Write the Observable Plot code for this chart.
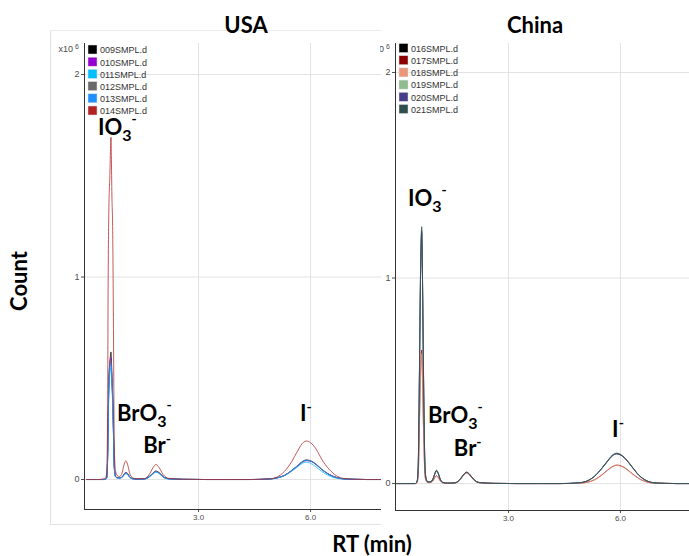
<!DOCTYPE html>
<html>
<head>
<meta charset="utf-8">
<script src="https://cdn.jsdelivr.net/npm/d3@7"></script>
<script src="https://cdn.jsdelivr.net/npm/@observablehq/plot@0.6"></script>
<style>
  body { margin: 0; background: #fff; }
  #fig { position: relative; width: 689px; height: 556px; overflow: hidden; background: #fff; }
  #fig svg { position: absolute; top: 0; }
</style>
</head>
<body>
<div id="fig"></div>
<script>
// ---------------- data ----------------
const panelTitles = ["USA", "China"];
const xTicks = [3, 6];
const xTickLabels = ["3.0", "6.0"];
const yTicks = [0, 1, 2];
const yUnitLabel = "x10";
const yUnitExp = "6";

// retention times (min) for the USA traces
const rtUSA = [0, 0.3, 0.5, 0.54, 0.565, 0.58, 0.60, 0.625, 0.645, 0.655, 0.665, 0.68, 0.70, 0.72, 0.735, 0.75, 0.78, 0.82, 0.88, 0.95, 1.0, 1.05, 1.1, 1.15, 1.22, 1.35, 1.55, 1.68, 1.78, 1.86, 1.94, 2.05, 2.2, 2.6, 3.2, 3.8, 4.4, 4.9, 5.1, 5.3, 5.5, 5.65, 5.78, 5.88, 6.0, 6.15, 6.3, 6.5, 6.7, 6.9, 7.2, 7.5, 7.9];
const usaSamples = ["009SMPL.d", "010SMPL.d", "011SMPL.d", "012SMPL.d", "013SMPL.d", "014SMPL.d"];
const usaColors = ["#000000", "#9400D3", "#00BFFF", "#696969", "#1E90FF", "#B22222"];
// counts (x10^6)
const usa009 = [0,0,0,0.01,0.12,0.3,0.5,0.58,0.62,0.63,0.6,0.52,0.42,0.26,0.12,0.05,0.015,0.01,0.008,0.012,0.025,0.035,0.03,0.015,0.005,0.002,0.003,0.015,0.032,0.042,0.035,0.015,0.004,0.001,0,0,0,0.003,0.008,0.02,0.045,0.068,0.088,0.096,0.092,0.075,0.05,0.025,0.01,0.003,0.001,0,0];
const usa010 = [0,0,0,0.008,0.1,0.28,0.48,0.56,0.6,0.6,0.57,0.5,0.4,0.25,0.11,0.045,0.014,0.009,0.008,0.011,0.023,0.033,0.028,0.014,0.005,0.002,0.003,0.014,0.03,0.04,0.033,0.014,0.004,0.001,0,0,0,0.003,0.008,0.02,0.044,0.066,0.085,0.093,0.09,0.073,0.049,0.024,0.009,0.003,0.001,0,0];
const usa011 = [0,0,0,0.006,0.09,0.25,0.44,0.52,0.55,0.55,0.53,0.46,0.37,0.23,0.1,0.04,0.012,0.008,0.007,0.01,0.02,0.028,0.024,0.012,0.004,0.001,0.002,0.012,0.027,0.036,0.03,0.012,0.003,0.001,0,0,0,0.002,0.007,0.019,0.042,0.062,0.08,0.086,0.08,0.062,0.04,0.018,0.006,0.002,0.001,0,0];
const usa012 = [0,0,0,0.009,0.11,0.29,0.49,0.57,0.59,0.59,0.56,0.49,0.4,0.25,0.11,0.046,0.014,0.009,0.008,0.011,0.024,0.034,0.029,0.014,0.005,0.002,0.003,0.015,0.031,0.041,0.034,0.014,0.004,0.001,0,0,0,0.003,0.009,0.021,0.046,0.069,0.089,0.097,0.093,0.076,0.051,0.025,0.01,0.003,0.001,0,0];
const usa013 = [0,0,0,0.007,0.1,0.27,0.46,0.54,0.57,0.57,0.55,0.48,0.39,0.24,0.1,0.042,0.013,0.008,0.007,0.011,0.022,0.031,0.027,0.013,0.004,0.001,0.003,0.013,0.029,0.038,0.032,0.013,0.003,0.001,0,0,0,0.003,0.008,0.02,0.045,0.067,0.087,0.094,0.091,0.074,0.05,0.024,0.009,0.003,0.001,0,0];
const usa014 = [0,0,0.005,0.03,0.35,1.0,1.35,1.5,1.65,1.69,1.6,1.4,1.25,0.8,0.35,0.12,0.04,0.02,0.015,0.03,0.07,0.092,0.075,0.035,0.01,0.003,0.005,0.025,0.058,0.074,0.06,0.025,0.006,0.001,0,0,0,0.003,0.012,0.04,0.09,0.14,0.178,0.19,0.182,0.15,0.1,0.05,0.018,0.005,0.001,0,0];

// retention times (min) for the China traces
const rtChina = [0, 0.3, 0.5, 0.55, 0.58, 0.60, 0.62, 0.645, 0.665, 0.675, 0.685, 0.70, 0.72, 0.74, 0.755, 0.77, 0.8, 0.84, 0.9, 0.97, 1.02, 1.07, 1.12, 1.17, 1.24, 1.37, 1.57, 1.70, 1.80, 1.88, 1.96, 2.07, 2.22, 2.6, 3.2, 3.8, 4.4, 4.9, 5.1, 5.3, 5.5, 5.65, 5.78, 5.9, 6.02, 6.17, 6.32, 6.5, 6.7, 6.9, 7.2, 7.5, 7.85];
const chinaSamples = ["016SMPL.d", "017SMPL.d", "018SMPL.d", "019SMPL.d", "020SMPL.d", "021SMPL.d"];
const chinaColors = ["#000000", "#8B0000", "#E9967A", "#8FBC8F", "#483D8B", "#2F4F4F"];
const china016 = [0,0,0,0.01,0.07,0.28,0.62,1.02,1.19,1.22,1.15,0.93,0.58,0.29,0.13,0.055,0.018,0.008,0.008,0.019,0.043,0.062,0.048,0.021,0.006,0.002,0.004,0.019,0.043,0.054,0.044,0.019,0.005,0.001,0,0,0,0.004,0.012,0.034,0.073,0.107,0.134,0.144,0.137,0.112,0.078,0.039,0.013,0.004,0.001,0,0];
const china017 = [0,0,0,0.005,0.04,0.15,0.35,0.55,0.64,0.65,0.6,0.48,0.3,0.15,0.07,0.03,0.012,0.005,0.005,0.012,0.028,0.038,0.03,0.014,0.004,0.001,0.003,0.018,0.042,0.052,0.042,0.018,0.004,0.001,0,0,0,0.002,0.006,0.018,0.042,0.065,0.082,0.09,0.086,0.07,0.048,0.024,0.008,0.002,0.001,0,0];
const china018 = [0,0,0,0.005,0.035,0.14,0.33,0.53,0.62,0.63,0.58,0.46,0.29,0.14,0.065,0.028,0.011,0.005,0.005,0.011,0.026,0.036,0.029,0.013,0.004,0.001,0.003,0.017,0.04,0.05,0.041,0.017,0.004,0.001,0,0,0,0.002,0.006,0.017,0.04,0.063,0.08,0.088,0.084,0.068,0.046,0.023,0.008,0.002,0.001,0,0];
const china019 = [0,0,0,0.01,0.08,0.29,0.64,1.04,1.21,1.24,1.17,0.94,0.59,0.3,0.14,0.06,0.02,0.008,0.008,0.02,0.044,0.064,0.049,0.022,0.006,0.002,0.004,0.02,0.044,0.055,0.045,0.02,0.005,0.001,0,0,0,0.004,0.012,0.035,0.074,0.109,0.137,0.147,0.139,0.114,0.079,0.04,0.014,0.004,0.001,0,0];
const china020 = [0,0,0,0.01,0.075,0.29,0.63,1.03,1.2,1.23,1.16,0.94,0.59,0.3,0.135,0.058,0.019,0.008,0.008,0.02,0.044,0.063,0.049,0.021,0.006,0.002,0.004,0.02,0.044,0.055,0.044,0.02,0.005,0.001,0,0,0,0.004,0.012,0.035,0.074,0.108,0.136,0.146,0.138,0.113,0.079,0.04,0.014,0.004,0.001,0,0];
const china021 = [0,0,0,0.01,0.08,0.3,0.65,1.05,1.22,1.25,1.18,0.95,0.6,0.3,0.14,0.06,0.02,0.008,0.008,0.02,0.045,0.065,0.05,0.022,0.006,0.002,0.004,0.02,0.045,0.056,0.045,0.02,0.005,0.001,0,0,0,0.004,0.012,0.035,0.075,0.11,0.138,0.148,0.14,0.115,0.08,0.04,0.014,0.004,0.001,0,0];

// peak annotations: anchor position in data units (RT min, count x10^6)
const usaPeakLabels = [
  {rt: 0.32, count: 1.70, base: "IO", sub: "3", sup: "-"},
  {rt: 0.83, count: 0.286, base: "BrO", sub: "3", sup: "-"},
  {rt: 1.53, count: 0.128, base: "Br", sub: "", sup: "-"},
  {rt: 5.73, count: 0.286, base: "I", sub: "", sup: "-"}
];
const chinaPeakLabels = [
  {rt: 0.32, count: 1.348, base: "IO", sub: "3", sup: "-"},
  {rt: 0.857, count: 0.292, base: "BrO", sub: "3", sup: "-"},
  {rt: 1.55, count: 0.131, base: "Br", sub: "", sup: "-"},
  {rt: 5.79, count: 0.224, base: "I", sub: "", sup: "-"}
];

const xAxisTitle = "RT (min)";
const yAxisTitle = "Count";

// ---------------- drawing ----------------
const fig = document.getElementById("fig");
const boldFont = "Lato, 'Open Sans', sans-serif";
const smallFont = "'Liberation Sans', Arial, sans-serif";

// faint frame of the left image
const bg = d3.select(fig).append("svg").attr("width", 689).attr("height", 556).style("left", "0px");
bg.append("line").attr("x1", 50.5).attr("x2", 50.5).attr("y1", 30).attr("y2", 525).attr("stroke", "#e2e2e2");
bg.append("line").attr("x1", 50).attr("x2", 381).attr("y1", 30.5).attr("y2", 30.5).attr("stroke", "#ececec");
bg.append("line").attr("x1", 50).attr("x2", 381).attr("y1", 524.5).attr("y2", 524.5).attr("stroke", "#e2e2e2");

function makePanel(cfg) {
  const data = [];
  cfg.samples.forEach((s, k) => {
    cfg.series[k].forEach((c, i) => data.push({sample: s, rt: cfg.rt[i], count: c}));
  });
  const plot = Plot.plot({
    width: cfg.width,
    height: 530,
    marginLeft: cfg.marginLeft,
    marginRight: 0,
    marginTop: 43,
    marginBottom: cfg.marginBottom,
    style: {background: "transparent", fontFamily: smallFont, fontSize: "9px", color: "#4d4d4d"},
    x: {domain: cfg.xDomain, ticks: xTicks, tickFormat: d => xTickLabels[xTicks.indexOf(d)], tickSize: 3, tickPadding: 2, label: null},
    y: {domain: cfg.yDomain, ticks: yTicks, tickFormat: d => String(d), tickSize: 3, tickPadding: 2, label: null},
    color: {domain: cfg.samples, range: cfg.colors},
    marks: [
      Plot.ruleX(xTicks, {stroke: "#e3e3e3"}),
      Plot.ruleY(yTicks, {stroke: "#e3e3e3"}),
      Plot.line(data, {x: "rt", y: "count", z: "sample", stroke: "sample", strokeWidth: 1, strokeOpacity: 0.75, curve: "monotone-x"}),
      Plot.ruleX([cfg.xDomain[0]], {stroke: "#333"}),
      Plot.ruleY([cfg.yDomain[0]], {stroke: "#333"})
    ]
  });
  plot.style.left = cfg.left + "px";
  plot.style.overflow = "hidden";
  fig.appendChild(plot);
  const svg = d3.select(plot);
  svg.selectAll('[aria-label^="x-axis"] text').attr("font-size", 8);

  const sxo = plot.scale("x"), syo = plot.scale("y");
  const sx = sxo.apply ? (v => sxo.apply(v)) : d3.scaleLinear(sxo.domain, sxo.range);
  const sy = syo.apply ? (v => syo.apply(v)) : d3.scaleLinear(syo.domain, syo.range);
  const axisX = cfg.marginLeft;

  const g = svg.append("g").attr("text-anchor", "start");

  // exponent label
  const ex = g.append("text").attr("x", axisX - 5).attr("y", 52).attr("text-anchor", "end")
    .attr("font-family", smallFont).attr("font-size", 9).attr("fill", "#4d4d4d");
  ex.append("tspan").text(yUnitLabel);
  ex.append("tspan").attr("dx", 2).attr("dy", -3).attr("font-size", 7).text(yUnitExp);

  // legend
  cfg.samples.forEach((s, i) => {
    const top = cfg.legendTop + i * 12.2;
    g.append("rect").attr("x", axisX + 4).attr("y", top).attr("width", 9).attr("height", 9)
      .attr("fill", cfg.colors[i]).attr("stroke", "#ddd").attr("stroke-width", 0.5);
    g.append("text").attr("x", axisX + 16).attr("y", top + 8.3).attr("text-anchor", "start")
      .attr("font-family", smallFont).attr("font-size", 9).attr("fill", "#333").text(s);
  });

  // peak labels
  cfg.labels.forEach(l => {
    const t = g.append("text").attr("x", sx(l.rt)).attr("y", sy(l.count)).attr("text-anchor", "start")
      .attr("font-family", boldFont).attr("font-weight", "bold").attr("font-size", 22).attr("fill", "#000");
    t.append("tspan").text(l.base);
    if (l.sub) t.append("tspan").attr("dy", 6).attr("font-size", 16).text(l.sub);
    if (l.sup) t.append("tspan").attr("dy", l.sub ? -17 : -9).attr("font-size", 14).text(l.sup);
  });
  return plot;
}

makePanel({
  left: 0, width: 381, marginLeft: 84, marginBottom: 21,
  xDomain: [-0.054, 7.90], yDomain: [-0.148, 2.153],
  rt: rtUSA, samples: usaSamples, colors: usaColors,
  series: [usa009, usa010, usa011, usa012, usa013, usa014],
  labels: usaPeakLabels, legendTop: 45
});
makePanel({
  left: 380, width: 309, marginLeft: 15, marginBottom: 20,
  xDomain: [-0.027, 7.85], yDomain: [-0.131, 2.141],
  rt: rtChina, samples: chinaSamples, colors: chinaColors,
  series: [china016, china017, china018, china019, china020, china021],
  labels: chinaPeakLabels, legendTop: 43.5
});

// titles and axis titles
const ov = d3.select(fig).append("svg").attr("width", 689).attr("height", 556).style("left", "0px")
  .attr("font-family", boldFont).attr("font-weight", "bold").attr("fill", "#000");
ov.append("text").attr("x", 246).attr("y", 33).attr("text-anchor", "middle").attr("font-size", 22).text(panelTitles[0]);
ov.append("text").attr("x", 535).attr("y", 33).attr("text-anchor", "middle").attr("font-size", 22).text(panelTitles[1]);
ov.append("text").attr("transform", "translate(27,281) rotate(-90)").attr("text-anchor", "middle").attr("font-size", 22).text(yAxisTitle);
ov.append("text").attr("x", 372).attr("y", 552).attr("text-anchor", "middle").attr("font-size", 22).text(xAxisTitle);
</script>
</body>
</html>
